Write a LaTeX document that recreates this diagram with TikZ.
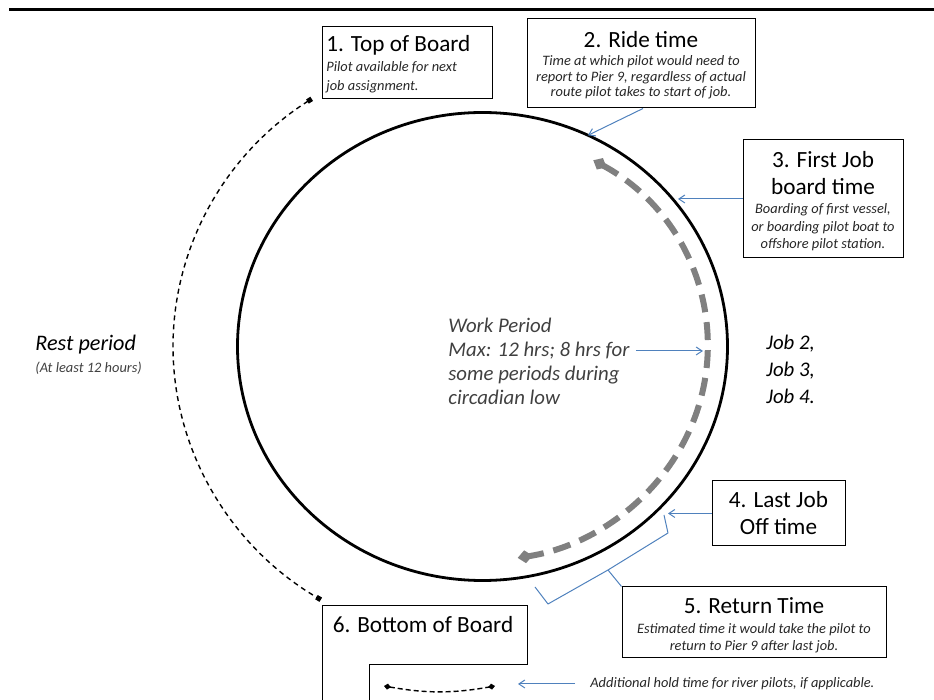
\documentclass[tikz,border=0pt]{standalone}
\usepackage{fontspec}
\setmainfont{Carlito}
\usepackage{xcolor}
\usetikzlibrary{arrows.meta}

\definecolor{pointerblue}{RGB}{79,129,189}
\definecolor{workdash}{RGB}{128,128,128}
\definecolor{notegray}{RGB}{38,38,38}
\definecolor{workgray}{RGB}{64,64,64}

\begin{document}
\begin{tikzpicture}[x=0.5pt, y=-0.5pt,
		box/.style={draw, line width=0.5pt, inner sep=0pt},
		boxtitle/.style={font=\fontsize{11.6}{13.5}\selectfont, align=center, inner sep=0pt},
		boxnote/.style={font=\fontsize{7.2}{8.6}\selectfont\itshape, text=notegray, align=center, inner sep=0pt},
		pointer/.style={draw=pointerblue, line width=0.5pt, -{Straight Barb[length=3pt, width=4pt]}},
		brace/.style={draw=pointerblue, line width=0.5pt, line join=round},
		workarc/.style={draw=workdash, line width=3pt, dash pattern=on 9pt off 5pt, {Diamond[length=7.5pt, width=6.5pt]}-{Diamond[length=7.5pt, width=6.5pt]}},
		restarc/.style={line width=0.7pt, dash pattern=on 2.5pt off 2pt, {Square[length=2.5pt, width=2.5pt]}-{Square[length=2.5pt, width=2.5pt]}},
		holdarc/.style={line width=0.7pt, dash pattern=on 2.5pt off 1.5pt, {Diamond[length=3.5pt, width=3pt]}-{Diamond[length=3.5pt, width=3pt]}}]
			\useasboundingbox (0,0) rectangle (934,700);
			\coordinate (center) at (482.5,346.5);

			% top rule and the duty circle
			\draw[line width=1.5pt] (9,10) -- (934,10);
			\draw[line width=1.4pt] (center) ellipse [x radius=122.5pt, y radius=117pt];

			% points on the arcs
			\path (center) ++(60.5:112.5pt and 107pt) coordinate (workStart);
			\path (center) ++(123.5:154.75pt and 148.5pt) coordinate (restTop);
			\path (center) ++(64.5:122.5pt and 117pt) coordinate (rideOn);
			\coordinate (boardOn) at (678,199);
			\coordinate (workOn) at (703,351);
			\coordinate (lastOn) at (668,513.5);
			\coordinate (holdOn) at (518,684);
			\coordinate (holdL) at (384,686);
			\coordinate (holdR) at (495,686);

			% arcs
			\draw[workarc] (workStart) arc[start angle=60.5, end angle=-81, x radius=112.5pt, y radius=107pt];
			\draw[restarc] (restTop) arc[start angle=123.5, end angle=238.5, x radius=154.75pt, y radius=148.5pt];
			\draw[holdarc] (holdL) to[bend right=10] (holdR);

			% boxes
			\node[box, minimum width=85pt, minimum height=36pt] (topboard) at (407,63) {};
			\node[boxtitle, anchor=west] (topboardT) at (326,45) {1. Top of Board};
			\node[boxnote, align=left, anchor=west, font=\fontsize{7.2}{9.5}\selectfont\itshape] (topboardN) at (326,77.5) {Pilot available for next\\job assignment.};

			\node[box, minimum width=114pt, minimum height=44.5pt] (ride) at (641,63.5) {};
			\node[boxtitle] (rideT) at (641,40) {2. Ride time};
			\node[boxnote, font=\fontsize{7.2}{7.8}\selectfont\itshape] (rideN) at (641,77.5) {Time at which pilot would need to\\report to Pier 9, regardless of actual\\route pilot takes to start of job.};

			\node[box, minimum width=80pt, minimum height=59pt] (firstjob) at (823,199) {};
			\node[boxtitle] (firstjobT) at (823,173.5) {3. First Job\\board time};
			\node[boxnote, font=\fontsize{7.2}{8.75}\selectfont\itshape] (firstjobN) at (823,227.5) {Boarding of first vessel,\\or boarding pilot boat to\\offshore pilot station.};

			\node[box, boxtitle, minimum width=66.5pt, minimum height=32.5pt] (lastjob) at (778.5,513.5) {4. Last Job\\Off time};

			\node[box, minimum width=132pt, minimum height=35.5pt] (return) at (754,622.5) {};
			\node[boxtitle] (returnT) at (754,606) {5. Return Time};
			\node[boxnote] (returnN) at (754,638.5) {Estimated time it would take the pilot to\\return to Pier 9 after last job.};

			\draw[line width=0.5pt] (322,700) -- (322,606) -- (527,606) -- (527,665) -- (369,665) -- (369,700);
			\node[boxtitle] (bottomT) at (423,625) {6. Bottom of Board};

			% free texts
			\node[font=\fontsize{10.4}{12}\selectfont\itshape, text=workgray, align=left, anchor=west, inner sep=0pt] (work) at (448,361) {Work Period\\Max: 12 hrs; 8 hrs for\\some periods during\\circadian low};
			\node[font=\fontsize{10.4}{13.5}\selectfont\itshape, align=left, anchor=west, inner sep=0pt] (jobs) at (766,369.5) {Job 2,\\Job 3,\\Job 4.};
			\node[font=\fontsize{11.1}{13}\selectfont\itshape, anchor=west, inner sep=0pt] (rest) at (35,345) {Rest period};
			\node[font=\fontsize{7.2}{9}\selectfont\itshape, text=workgray, anchor=west, inner sep=0pt] (restnote) at (35,368) {(At least 12 hours)};
			\node[boxnote, anchor=west] (hold) at (590,684) {Additional hold time for river pilots, if applicable.};
			\coordinate (workFrom) at (workOn -| work.east);

			% pointers
			\draw[pointer] ([xshift=1pt]ride.south) -- (rideOn);
			\draw[pointer] (firstjob.west) -- (boardOn);
			\draw[pointer] ([xshift=3pt]workFrom) -- (workOn);
			\draw[pointer] (lastjob.west) -- (lastOn);
			\draw[pointer] ([xshift=-7.5pt]hold.west) -- (holdOn);

			% return time brace
			\coordinate (braceA) at (535,587);
			\coordinate (braceB) at (548,604);
			\coordinate (braceM) at (608,570);
			\coordinate (braceC) at (668,533);
			\coordinate (braceD) at (664,515);
			\draw[brace] (braceA) -- (braceB) -- (braceM) -- (braceC) -- (braceD);
			\draw[brace] (braceM) -- (return.north west);
		\end{tikzpicture}
\end{document}
